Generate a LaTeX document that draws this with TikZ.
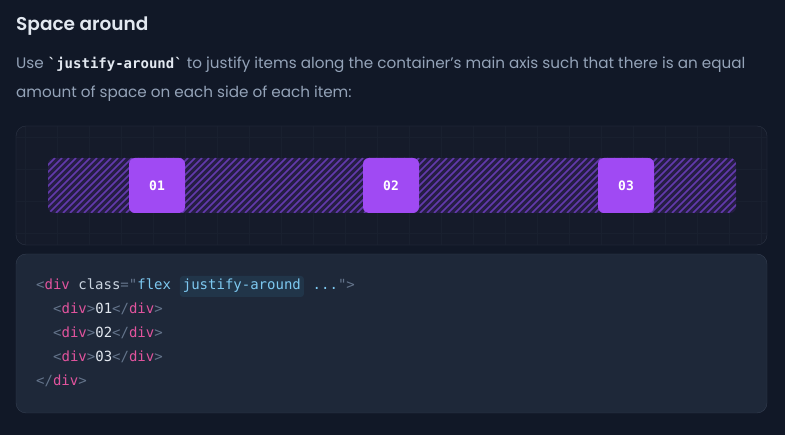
\documentclass[tikz,border=0pt]{standalone}
\usepackage{fontspec}
\IfFontExistsTF{Poppins SemiBold}{\setmainfont{Poppins}[BoldFont={Poppins SemiBold}]}{\setmainfont{Poppins}}
\setmonofont{DejaVu Sans Mono}
\usetikzlibrary{positioning}
\definecolor{pagebg}{RGB}{17,24,39}
\definecolor{titlecol}{RGB}{226,232,240}
\definecolor{bodycol}{RGB}{148,163,184}
\definecolor{inlinecode}{RGB}{226,232,240}
\definecolor{demofill}{RGB}{21,27,42}
\definecolor{demoborder}{RGB}{37,44,60}
\definecolor{gridcol}{RGB}{25,32,47}
\definecolor{barfill}{RGB}{38,30,68}
\definecolor{stripecol}{RGB}{98,58,172}
\definecolor{itemfill}{RGB}{160,74,243}
\definecolor{codefill}{RGB}{30,40,57}
\definecolor{codeborder}{RGB}{52,62,80}
\definecolor{hlfill}{RGB}{33,53,73}
\definecolor{punct}{RGB}{100,116,139}
\definecolor{tagcol}{RGB}{226,84,158}
\definecolor{attrcol}{RGB}{203,213,225}
\definecolor{strcol}{RGB}{125,200,240}
\definecolor{numcol}{RGB}{226,232,240}

\begin{document}
\begin{tikzpicture}[x=1pt,y=-1pt,
    item/.style={rounded corners=6pt,fill=itemfill,text=white,minimum width=56pt,minimum height=55pt,inner sep=0pt,font=\ttfamily\bfseries\fontsize{13}{13}\selectfont},
    codeline/.style={anchor=base west,inner sep=0pt,font=\ttfamily\fontsize{14}{14}\selectfont}]
    \fill[pagebg] (0,0) rectangle (785,435);
    \useasboundingbox (0,0) rectangle (785,435);
    \node[anchor=base west,inner sep=0pt,text=titlecol,font=\bfseries\fontsize{18.5}{18.5}\selectfont] (title) at (16,31) {Space around};
    \node[anchor=base west,inner sep=0pt,text=bodycol,font=\fontsize{15.2}{15.2}\selectfont] (text1) at (16,69) {Use \textcolor{inlinecode}{\ttfamily\bfseries\fontsize{14}{14}\selectfont\symbol{96}justify-around\symbol{96}} to justify items along the container’s main axis such that there is an equal};
    \node[anchor=base west,inner sep=0pt,text=bodycol,font=\fontsize{15.2}{15.2}\selectfont] (text2) at (16,98) {amount of space on each side of each item:};
    \draw[demoborder,fill=demofill,rounded corners=10pt] (16,126) rectangle (767,245);
    \begin{scope}
        \clip[rounded corners=10pt] (16,126) rectangle (767,245);
        \foreach \x in {25,57,...,761} \draw[gridcol,line width=0.8pt] (\x,126) -- (\x,245);
        \foreach \y in {137,169,201,233} \draw[gridcol,line width=0.8pt] (16,\y) -- (767,\y);
    \end{scope}
    \draw[demoborder,rounded corners=10pt] (16,126) rectangle (767,245);
    \begin{scope}
        \clip[rounded corners=6pt] (48,158) rectangle (736,213);
        \fill[barfill] (48,158) rectangle (736,213);
        \foreach \i in {0,...,105} \draw[stripecol,line width=1.6pt] ({\i*7},213) -- ({\i*7+55},158);
    \end{scope}
    \node[item] (item1) at (157,185.5) {01};
    \node[item] (item2) at (391,185.5) {02};
    \node[item] (item3) at (626,185.5) {03};
    \draw[codeborder,fill=codefill,rounded corners=10pt] (16,254) rectangle (767,413);
    \node[codeline] (code1) at (36,290) {\textcolor{punct}{<}\textcolor{tagcol}{div}\ \textcolor{attrcol}{class}\textcolor{punct}{="}\textcolor{strcol}{flex\ }};
    \node[codeline,fill=hlfill,rounded corners=3pt,inner xsep=3pt,inner ysep=4pt,text height=10pt,text depth=3pt] (hl) at (code1.base east) {\textcolor{strcol}{justify-around}};
    \node[codeline] (code1b) at (hl.base east) {\textcolor{strcol}{\ ...}\textcolor{punct}{">}};
    \node[codeline] (code2) at (53,314) {\textcolor{punct}{<}\textcolor{tagcol}{div}\textcolor{punct}{>}\textcolor{numcol}{01}\textcolor{punct}{</}\textcolor{tagcol}{div}\textcolor{punct}{>}};
    \node[codeline] (code3) at (53,338) {\textcolor{punct}{<}\textcolor{tagcol}{div}\textcolor{punct}{>}\textcolor{numcol}{02}\textcolor{punct}{</}\textcolor{tagcol}{div}\textcolor{punct}{>}};
    \node[codeline] (code4) at (53,362) {\textcolor{punct}{<}\textcolor{tagcol}{div}\textcolor{punct}{>}\textcolor{numcol}{03}\textcolor{punct}{</}\textcolor{tagcol}{div}\textcolor{punct}{>}};
    \node[codeline] (code5) at (36,386) {\textcolor{punct}{</}\textcolor{tagcol}{div}\textcolor{punct}{>}};
\end{tikzpicture}
\end{document}
